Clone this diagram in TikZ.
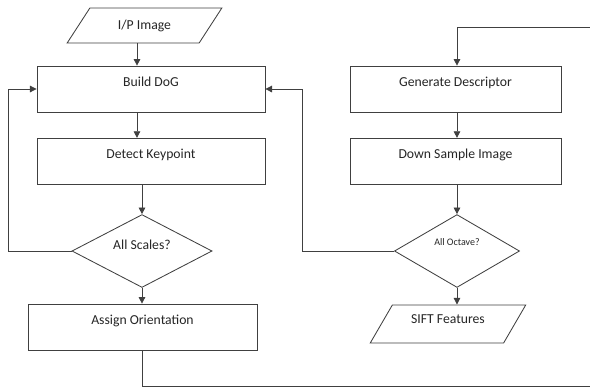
\documentclass[tikz,border=0pt]{standalone}
\usepackage{fontspec}
\setmainfont{Carlito}
\definecolor{flline}{HTML}{404040}
\definecolor{fltext}{HTML}{262626}
\usetikzlibrary{arrows.meta,positioning,shapes.geometric,calc}

\begin{document}
\begin{tikzpicture}[
  font=\fontsize{13}{15}\selectfont,
  proc/.style={draw=flline,fill=white,text=fltext,line width=0.8pt,
    minimum width=7.6cm,inner sep=0.2cm,
    text height=0.48cm,text depth=0.65cm,align=center},
  decide/.style={diamond,aspect=1.8,draw=flline,fill=white,text=fltext,
    line width=0.8pt,inner sep=0pt,minimum height=2.43cm},
  io/.style={trapezium,trapezium stretches=true,draw=flline,fill=white,
    text=fltext,line width=0.8pt,inner sep=0pt},
  link/.style={-{Triangle[length=2.2mm,width=2.2mm]},draw=flline,line width=0.8pt},
  wire/.style={draw=flline,line width=0.8pt}
]
\useasboundingbox (0,0) rectangle (19.667,-12.967);
% left column
\node[io,trapezium left angle=47,trapezium right angle=133,
  minimum width=5.17cm,minimum height=1.17cm] (img) at (4.817,-0.85) {I/P Image};
\node[proc] (dog) at (5.033,-2.967) {Build DoG};
\node[proc,minimum height=1.5cm] (kp) at (5.033,-5.375) {Detect Keypoint};
\node[decide,minimum width=4.67cm,text depth=0.4cm] (scl) at (4.733,-8.367) {All Scales?};
\node[proc,minimum width=7.63cm] (ori) at (4.75,-10.9) {Assign Orientation};
% right column
\node[proc,minimum width=7.03cm] (desc) at (15.183,-2.967) {Generate Descriptor};
\node[proc,minimum width=7.03cm,minimum height=1.5cm] (down) at (15.183,-5.375) {Down Sample Image};
\node[decide,minimum width=4.17cm,text depth=0.6cm,
  font=\fontsize{9.5}{11}\selectfont] (oct) at (15.233,-8.367) {All Octave?};
\node[io,trapezium left angle=52,trapezium right angle=128,text depth=0.33cm,
  minimum width=5.2cm,minimum height=1.27cm] (sift) at (14.933,-10.8) {SIFT Features};
% loose ends at the page edge
\coordinate (inR) at (19.667,-0.9);
\coordinate (outR) at (19.667,-12.867);
% links
\draw[link] ([xshift=-0.25cm]img.south) -- ([xshift=-0.25cm]img.south |- dog.north);
\draw[link] ([xshift=-0.467cm]dog.south) -- ([xshift=-0.467cm]kp.north);
\draw[link] (kp.south -| scl.north) -- (scl.north);
\draw[link] (scl.south) -- (scl.south |- ori.north);
\draw[link] (scl.west) -- (scl.west -| 0.267,0) |- (dog.west);
\draw[wire] (ori.south) |- (outR);
\draw[link] (inR) -| ([xshift=0.05cm]desc.north);
\draw[link] ([xshift=0.05cm]desc.south) -- ([xshift=0.05cm]down.north);
\draw[link] (down.south -| oct.north) -- (oct.north);
\draw[link] (oct.south) -- (oct.south |- sift.north);
\draw[link] (oct.west) -- (oct.west -| 10.067,0) |- (dog.east);
\end{tikzpicture}
\end{document}
